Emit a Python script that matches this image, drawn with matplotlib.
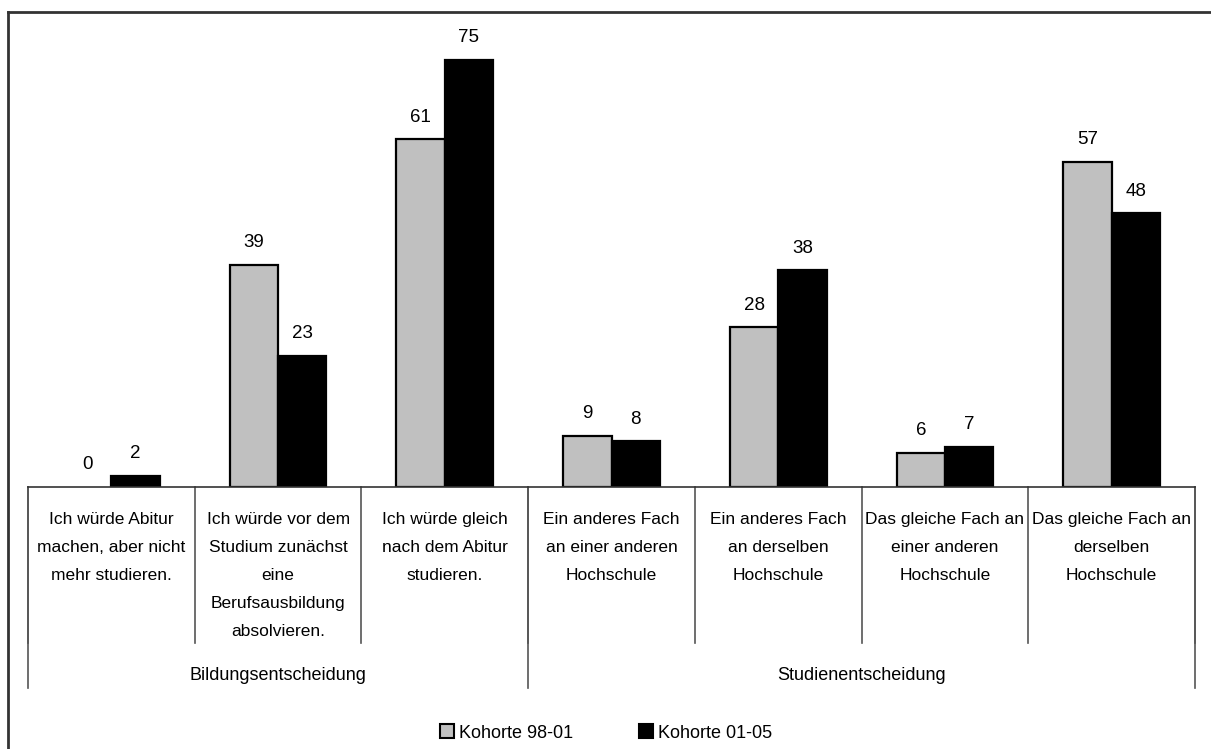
import matplotlib
matplotlib.use("Agg")
import matplotlib.pyplot as plt
from matplotlib.lines import Line2D
from matplotlib.patches import Patch
import numpy as np

plt.rcParams['font.family'] = ['Liberation Sans Narrow', 'Liberation Sans', 'DejaVu Sans']

categories = [
    "Ich würde Abitur\nmachen, aber nicht\nmehr studieren.",
    "Ich würde vor dem\nStudium zunächst\neine\nBerufsausbildung\nabsolvieren.",
    "Ich würde gleich\nnach dem Abitur\nstudieren.",
    "Ein anderes Fach\nan einer anderen\nHochschule",
    "Ein anderes Fach\nan derselben\nHochschule",
    "Das gleiche Fach an\neiner anderen\nHochschule",
    "Das gleiche Fach an\nderselben\nHochschule",
]
groups = ["Bildungsentscheidung", "Studienentscheidung"]
group_sizes = [3, 4]
series_names = ["Kohorte 98-01", "Kohorte 01-05"]
kohorte_98_01 = [0, 39, 61, 9, 28, 6, 57]
kohorte_01_05 = [2, 23, 75, 8, 38, 7, 48]
series_colors = ["#C0C0C0", "black"]

W, H = 1211, 749
fig = plt.figure(figsize=(W / 100, H / 100), dpi=100)
ax_left, ax_right = 28 / W, 1195 / W
ax_bottom, ax_top = (H - 487) / H, (H - 31) / H
ax = fig.add_axes([ax_left, ax_bottom, ax_right - ax_left, ax_top - ax_bottom])

x = np.arange(len(categories))
w = 0.29
lw1 = [1.6 if v > 0 else 0 for v in kohorte_98_01]
lw2 = [1.6 if v > 0 else 0 for v in kohorte_01_05]
b1 = ax.bar(x - w / 2, kohorte_98_01, w, color=series_colors[0], edgecolor="black", linewidth=lw1)
b2 = ax.bar(x + w / 2, kohorte_01_05, w, color=series_colors[1], edgecolor="black", linewidth=lw2)

ax.set_xlim(-0.5, len(categories) - 0.5)
ax.set_ylim(0, 80)
for s in ["top", "right", "left"]:
    ax.spines[s].set_visible(False)
ax.spines["bottom"].set_color("#333333")
ax.spines["bottom"].set_linewidth(1.2)
ax.set_yticks([])
ax.set_xticks([])

for bars, vals in ((b1, kohorte_98_01), (b2, kohorte_01_05)):
    for r, v in zip(bars, vals):
        ax.annotate(str(v), (r.get_x() + r.get_width() / 2, v), xytext=(0, 16),
                    textcoords="offset points", ha="center", va="center", fontsize=13.5)

ax_h = 487 - 31
def ay(ypix):
    return (487 - ypix) / ax_h

trans = ax.get_xaxis_transform()
for i in range(len(categories) + 1):
    xb = i - 0.5
    ax.plot([xb, xb], [0, ay(643)], transform=trans, color="#555555", lw=1.2, clip_on=False)
edges = np.concatenate([[0], np.cumsum(group_sizes)]) - 0.5
for xb in edges:
    ax.plot([xb, xb], [0, ay(688)], transform=trans, color="#555555", lw=1.2, clip_on=False)

for i, c in enumerate(categories):
    ax.text(i, ay(512), c, transform=trans, ha="center", va="top", fontsize=12.5,
            linespacing=2.08)

for g, (a, bnd) in enumerate(zip(edges[:-1], edges[1:])):
    ax.text((a + bnd) / 2, ay(675), groups[g], transform=trans, ha="center", va="center", fontsize=13)

fig.add_artist(Line2D([8 / W, 8 / W], [0, (H - 12) / H], color="#333333", lw=2))
fig.add_artist(Line2D([8 / W, 1], [(H - 12) / H, (H - 12) / H], color="#333333", lw=2))

handles = [Patch(facecolor=c, edgecolor="black", linewidth=1.5) for c in series_colors]
fig.legend(handles=handles, labels=series_names, loc="center", bbox_to_anchor=(606 / W, (H - 733) / H),
           ncol=2, frameon=False, fontsize=13, handlelength=0.8, handleheight=0.8,
           handletextpad=0.3, columnspacing=3.6)

fig.savefig("out.png", dpi=100)
